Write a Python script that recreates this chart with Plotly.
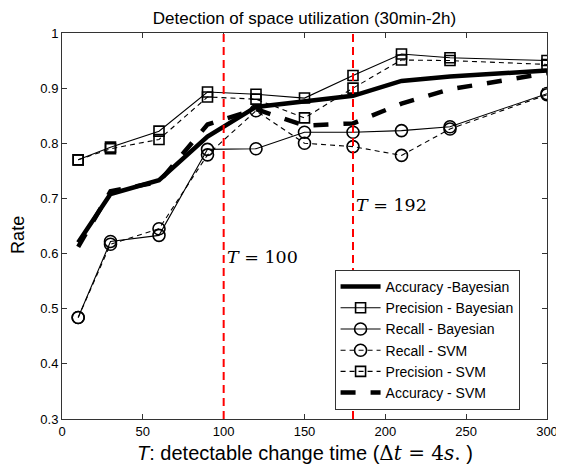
import plotly.graph_objects as go

# ---- data ----
T_vals = [10, 30, 60, 90, 120, 150, 180, 210, 240, 300]
acc_bayes = [0.620, 0.708, 0.733, 0.812, 0.866, 0.875, 0.886, 0.913, 0.921, 0.932]
prec_bayes = [0.770, 0.793, 0.822, 0.893, 0.889, 0.882, 0.923, 0.962, 0.955, 0.950]
rec_bayes = [0.484, 0.622, 0.633, 0.789, 0.790, 0.820, 0.820, 0.823, 0.830, 0.890]
rec_svm = [0.484, 0.617, 0.645, 0.779, 0.859, 0.800, 0.794, 0.778, 0.826, 0.888]
prec_svm = [0.770, 0.790, 0.807, 0.884, 0.880, 0.846, 0.900, 0.951, 0.950, 0.943]
acc_svm = [0.612, 0.713, 0.730, 0.834, 0.862, 0.832, 0.836, 0.872, 0.898, 0.927]
thresholds = [100, 180]
threshold_labels = ["<i>T</i> = 100", "<i>T</i> = 192"]
threshold_label_y = [0.593, 0.688]
x_ticks = [0, 50, 100, 150, 200, 250, 300]
y_ticks = [0.3, 0.4, 0.5, 0.6, 0.7, 0.8, 0.9, 1.0]
y_ticklabels = ["0.3", "0.4", "0.5", "0.6", "0.7", "0.8", "0.9", "1"]

SANS = "Liberation Sans, Arial, sans-serif"
SERIF = "DejaVu Serif, Liberation Serif, serif"

fig = go.Figure()

sq = dict(symbol="square-open", size=10, color="black", line=dict(width=1.6, color="black"))
ci = dict(symbol="circle-open", size=12, color="black", line=dict(width=1.6, color="black"))

fig.add_trace(go.Scatter(x=T_vals, y=acc_bayes, mode="lines", name="Accuracy -Bayesian",
                         line=dict(color="black", width=4.5)))
fig.add_trace(go.Scatter(x=T_vals, y=prec_bayes, mode="lines+markers", name="Precision - Bayesian",
                         line=dict(color="black", width=1.1), marker=sq))
fig.add_trace(go.Scatter(x=T_vals, y=rec_bayes, mode="lines+markers", name="Recall - Bayesian",
                         line=dict(color="black", width=1.1), marker=ci))
fig.add_trace(go.Scatter(x=T_vals, y=rec_svm, mode="lines+markers", name="Recall - SVM",
                         line=dict(color="black", width=1.1, dash="5px,4px"), marker=ci))
fig.add_trace(go.Scatter(x=T_vals, y=prec_svm, mode="lines+markers", name="Precision - SVM",
                         line=dict(color="black", width=1.1, dash="5px,4px"), marker=sq))
fig.add_trace(go.Scatter(x=T_vals, y=acc_svm, mode="lines", name="Accuracy - SVM",
                         line=dict(color="black", width=4.5, dash="15px,15px")))

for t in thresholds:
    fig.add_shape(type="line", xref="x", yref="y", x0=t, x1=t, y0=0.3, y1=1.0,
                  line=dict(color="#ff0000", width=2, dash="8px,5px"), layer="above")

for t, lab, ly in zip(thresholds, threshold_labels, threshold_label_y):
    fig.add_annotation(x=t, y=ly, xref="x", yref="y", text=lab, showarrow=False,
                       xanchor="left", xshift=1, font=dict(family=SERIF, size=17.5, color="black"))

# axis titles as annotations for precise placement
fig.add_annotation(x=0.5, y=0, xref="paper", yref="paper", yanchor="middle", yshift=-34,
                   showarrow=False,
                   text='<i>T</i>: detectable change time (<span style="font-family:DejaVu Serif">Δ<i>t</i> = 4<i>s</i>.</span> )',
                   font=dict(family=SANS, size=20, color="black"))
fig.add_annotation(x=0, y=0.477, xref="paper", yref="paper", xanchor="center", xshift=-44,
                   showarrow=False, textangle=-90, text="Rate",
                   font=dict(family=SANS, size=18, color="black"))

# the page body has an 8px margin, so the figure is 8px smaller than the window
fig.update_layout(
    width=556, height=457,
    margin=dict(l=54, r=17, t=25, b=46, autoexpand=False),
    paper_bgcolor="white", plot_bgcolor="white",
    title=dict(text="Detection of space utilization (30min-2h)", x=0.5, xref="paper",
               y=0.99, yanchor="top", font=dict(family=SANS, size=17, color="black")),
    font=dict(family=SANS, size=13, color="black"),
    showlegend=True,
    legend=dict(x=0.562, y=0.386, xanchor="left", yanchor="top",
                bgcolor="white", bordercolor="#333333", borderwidth=1,
                font=dict(family=SANS, size=14, color="black"),
                tracegroupgap=0, itemwidth=40),
)

fig.update_xaxes(range=[0, 300], tickvals=x_ticks, ticks="inside", ticklen=5,
                 tickcolor="#333333", showline=True, linecolor="#333333", linewidth=1,
                 mirror="ticks", showgrid=False, zeroline=False, automargin=False,
                 tickfont=dict(family=SANS, size=13, color="black"))
fig.update_yaxes(range=[0.3, 1.0], tickvals=y_ticks, ticktext=y_ticklabels, ticks="inside", ticklen=5,
                 tickcolor="#333333", showline=True, linecolor="#333333", linewidth=1,
                 mirror="ticks", showgrid=False, zeroline=False, automargin=False,
                 tickfont=dict(family=SANS, size=13, color="black"))

fig.write_html("out.html")
